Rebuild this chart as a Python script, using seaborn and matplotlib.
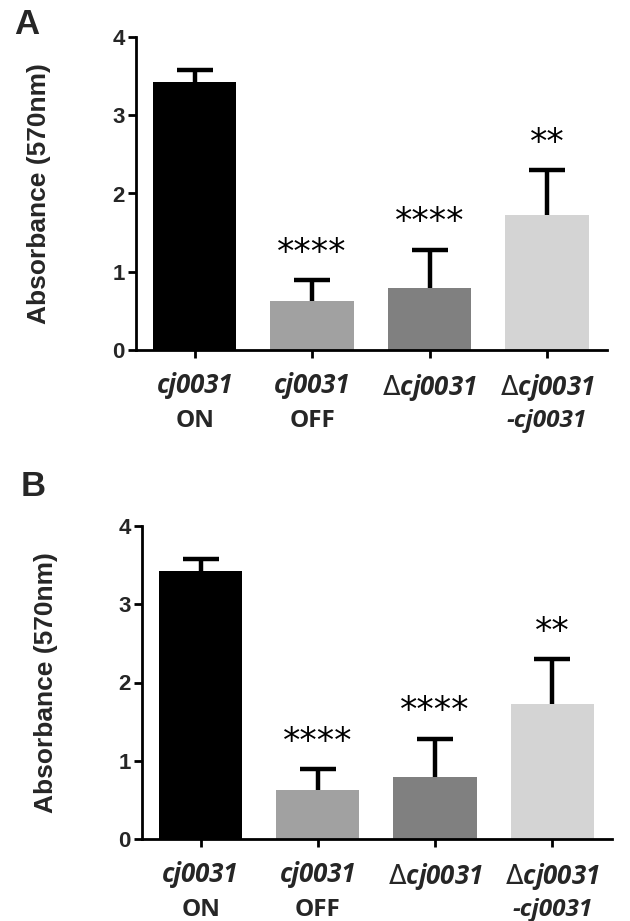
import matplotlib
matplotlib.use("Agg")
import matplotlib.pyplot as plt
import seaborn as sns
import pandas as pd

# ---- data ----
categories = ["cj0031 ON", "cj0031 OFF", "Δcj0031", "Δcj0031-cj0031"]
label_line1 = ["cj0031", "cj0031", r"$\mathrm{\Delta}$cj0031", r"$\mathrm{\Delta}$cj0031"]
label_line2 = ["ON", "OFF", "", "-cj0031"]
line2_italic = [False, False, False, True]
means = [3.42, 0.63, 0.79, 1.73]
errors = [0.16, 0.26, 0.49, 0.57]
signif = ["", "****", "****", "**"]
colors = ["#000000", "#a1a1a1", "#808080", "#d4d4d4"]
yticks = [0, 1, 2, 3, 4]
ylabel = "Absorbance (570nm)"
panels = ["A", "B"]

sns.set_style("ticks")
plt.rcParams["font.family"] = ["Liberation Sans", "DejaVu Sans"]
plt.rcParams["mathtext.default"] = "regular"
XFONT = ["Open Sans", "DejaVu Sans"]

df = pd.DataFrame({"group": categories, "mean": means})

fig = plt.figure(figsize=(6.30, 9.21), dpi=100)
W, H = 630, 921
# axes boxes in pixels: left, top(y=4), right, bottom(y=0)
boxes = [(136, 37, 607, 350), (142, 526, 612, 839)]
letters_pos = [(14, 8), (21, 470)]

for (l, t, r, b), letter, (lx, ly) in zip(boxes, panels, letters_pos):
    ax = fig.add_axes([l / W, 1 - b / H, (r - l) / W, (b - t) / H])
    sns.barplot(data=df, x="group", y="mean", hue="group", palette=colors,
                legend=False, errorbar=None, width=0.71, ax=ax,
                linewidth=0, saturation=1)
    eb = ax.errorbar(range(len(means)), means, yerr=[[0] * len(means), errors],
                     fmt="none", ecolor="black", elinewidth=3.2, capsize=13,
                     capthick=3.2, zorder=3)
    eb.lines[1][0].set_visible(False)  # hide lower caps
    for i, (m, e, s) in enumerate(zip(means, errors, signif)):
        if s:
            ax.text(i, m + e + 0.35, s, ha="center", va="center",
                    fontsize=25, family="DejaVu Sans", color="black")
    ax.set_xlim(-0.5, 3.51)
    ax.set_ylim(0, 4)
    ax.set_yticks(yticks)
    ax.set_yticklabels([str(v) for v in yticks], fontsize=16, fontweight="bold")
    ax.set_xticks(range(len(categories)))
    ax.set_xticklabels(label_line1, fontsize=18.5, fontweight="bold",
                       fontstyle="italic", family=XFONT)
    for i, (t2, it) in enumerate(zip(label_line2, line2_italic)):
        if t2:
            ax.annotate(t2, xy=(i, 0), xycoords=("data", "axes fraction"),
                        xytext=(0, -51), textcoords="offset points",
                        ha="center", va="center", fontsize=17.5,
                        fontweight="bold", fontstyle="italic" if it else "normal",
                        family=XFONT)
    ax.tick_params(axis="both", width=2, length=6, color="black")
    ax.tick_params(axis="y", pad=2)
    ax.tick_params(axis="x", pad=10)
    for sp in ["left", "bottom"]:
        ax.spines[sp].set_linewidth(2)
        ax.spines[sp].set_color("black")
    sns.despine(ax=ax)
    ax.set_xlabel("")
    ax.set_ylabel(ylabel, fontsize=19, fontweight="bold", va="center")
    ax.yaxis.set_label_coords(-0.205, 0.5)
    fig.text(lx / W, 1 - ly / H, letter, fontsize=25, fontweight="bold",
             ha="left", va="top")

fig.savefig("out.png", dpi=100)
